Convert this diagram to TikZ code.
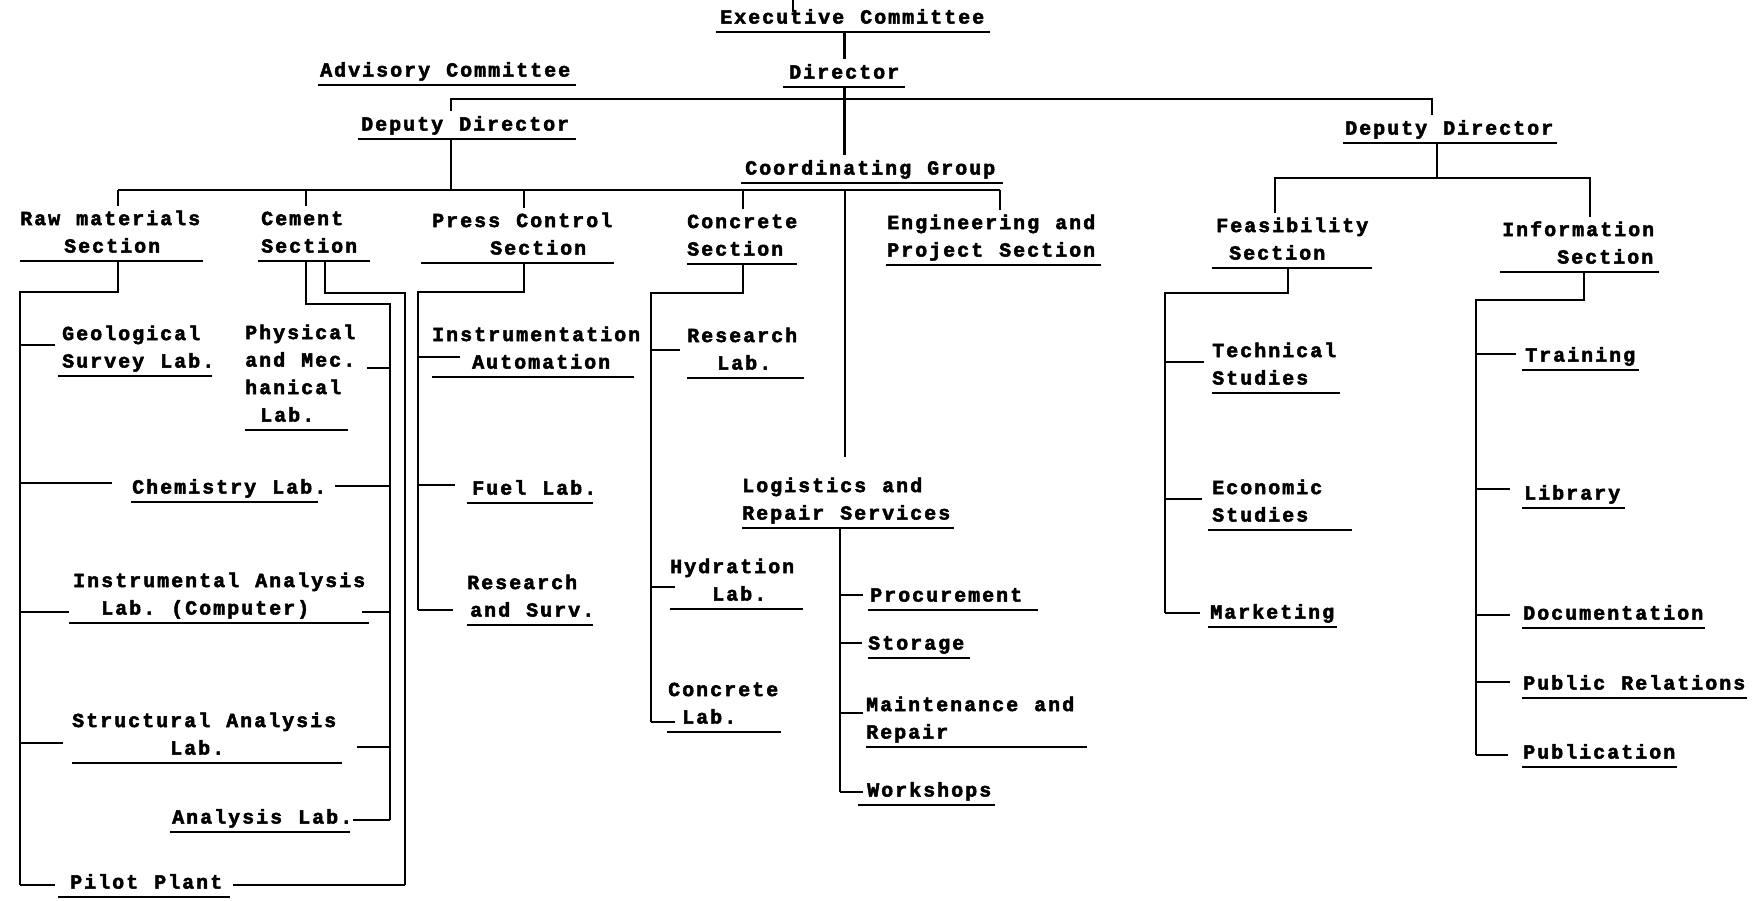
\documentclass[tikz,border=0pt]{standalone}
\usepackage{fontspec}
\newfontfamily\tw{Liberation Mono}[LetterSpace=10,BoldFeatures={FakeBold=2.5}]
\newcommand\wsp{\hspace*{16pt}}
\tikzset{
  ul/.style={draw,line width=1.8pt},
  lab/.style={anchor=south west,inner sep=0pt,align=left,
    font={\tw\fontsize{20}{27.5}\selectfont\bfseries},
    execute at begin node=\strut,execute at end node=\strut,
    append after command={(\tikzlastnode.south west) edge[ul] (\tikzlastnode.south east)}},
  conn/.style={line width=2.6pt},
  tick/.style={line width=1.8pt},
}
\begin{document}
\begin{tikzpicture}[x=1pt,y=-1pt]
\useasboundingbox[fill=white] (0,0) rectangle (1760,900);
% ---- nodes
\node[lab,text width=274pt] (exec) at (716,32) {\hspace*{4pt}Executive\wsp Committee};
\node[lab,text width=122pt] (dir) at (783,87) {\hspace*{6pt}Director};
\node[lab,text width=258pt] (adv) at (318,85) {\hspace*{2pt}Advisory\wsp Committee};
\node[lab,text width=218pt] (ddl) at (358,139) {\hspace*{3pt}Deputy\wsp Director};
\node[lab,text width=262pt] (coord) at (741,183) {\hspace*{4pt}Coordinating\wsp Group};
\node[lab,text width=214pt] (ddr) at (1343,143) {\hspace*{2pt}Deputy\wsp Director};
\node[lab,text width=183pt] (raw) at (20,261) {Raw\wsp materials\\\hspace*{44pt}Section};
\node[lab,text width=112pt] (cem) at (258,261) {\hspace*{3pt}Cement\\\hspace*{3pt}Section};
\node[lab,text width=193pt] (press) at (421,263) {\hspace*{11pt}Press\wsp Control\\\hspace*{69pt}Section};
\node[lab,text width=110pt] (conc) at (687,264) {Concrete\\Section};
\node[lab,text width=215pt] (eng) at (886,265) {\hspace*{1pt}Engineering\wsp and\\\hspace*{1pt}Project\wsp Section};
\node[lab,text width=160pt] (feas) at (1212,268) {\hspace*{4pt}Feasibility\\\hspace*{17pt}Section};
\node[lab,text width=159pt] (info) at (1500,272) {\hspace*{2pt}Information\\\hspace*{57pt}Section};
\node[lab,text width=154pt] (geo) at (58,376) {\hspace*{4pt}Geological\\\hspace*{4pt}Survey\wsp Lab.};
\node[lab,text width=103pt] (phys) at (245,430) {Physical\\and\wsp Mec.\\hanical\\\hspace*{15pt}Lab.};
\node[lab,text width=187pt] (chem) at (131,502) {\hspace*{1pt}Chemistry\wsp Lab.};
\node[lab,text width=300pt] (instr) at (69,623) {\hspace*{4pt}Instrumental\wsp Analysis\\\hspace*{32pt}Lab.\wsp(Computer)};
\node[lab,text width=270pt] (struct) at (72,763) {Structural\wsp Analysis\\\hspace*{98pt}Lab.};
\node[lab,text width=180pt] (anal) at (170,832) {\hspace*{2pt}Analysis\wsp Lab.};
\node[lab,text width=172pt] (pilot) at (58,897) {\hspace*{12pt}Pilot\wsp Plant};
\node[lab,text width=202pt] (instrum) at (432,377) {Instrumentation\\\hspace*{40pt}Automation};
\node[lab,text width=126pt] (fuel) at (467,503) {\hspace*{5pt}Fuel\wsp Lab.};
\node[lab,text width=126pt] (rsurv) at (467,625) {Research\\\hspace*{3pt}and\wsp Surv.};
\node[lab,text width=117pt] (rlab) at (687,378) {Research\\\hspace*{30pt}Lab.};
\node[lab,text width=133pt] (hyd) at (670,609) {Hydration\\\hspace*{42pt}Lab.};
\node[lab,text width=114pt] (clab) at (667,732) {\hspace*{1pt}Concrete\\\hspace*{15pt}Lab.};
\node[lab,text width=212pt] (logi) at (742,528) {Logistics\wsp and\\Repair\wsp Services};
\node[lab,text width=170pt] (proc) at (868,610) {\hspace*{2pt}Procurement};
\node[lab,text width=102pt] (stor) at (868,658) {Storage};
\node[lab,text width=221pt] (maint) at (866,747) {Maintenance\wsp and\\Repair};
\node[lab,text width=137pt] (work) at (858,805) {\hspace*{9pt}Workshops};
\node[lab,text width=128pt] (tech) at (1212,393) {Technical\\Studies};
\node[lab,text width=144pt] (econ) at (1208,530) {\hspace*{4pt}Economic\\\hspace*{4pt}Studies};
\node[lab,text width=129pt] (mark) at (1208,627) {\hspace*{2pt}Marketing};
\node[lab,text width=117pt] (train) at (1522,370) {\hspace*{3pt}Training};
\node[lab,text width=103pt] (lib) at (1522,508) {\hspace*{2pt}Library};
\node[lab,text width=183pt] (doc) at (1522,628) {\hspace*{1pt}Documentation};
\node[lab,text width=225pt] (pr) at (1522,698) {\hspace*{1pt}Public\wsp Relations};
\node[lab,text width=155pt] (pub) at (1522,767) {\hspace*{1pt}Publication};
% ---- top connectors
\coordinate (top) at (793,0);
\draw[conn] (top) -- ++(0,12);
\draw[conn] (exec.south -| dir.north) -- (dir.north);
\draw[conn] (dir.south) -- (dir.south |- coord.north);
\coordinate (tl) at (451,99);
\coordinate (tr) at (1432,99);
\draw[conn] (tl |- ddl.north) -- (tl) -- (tr) -- (tr |- ddr.north);
% ---- second bus
\coordinate (dRaw) at (118,190);
\coordinate (dCem) at (306,190);
\coordinate (dPress) at (524,190);
\coordinate (dConc) at (743,190);
\coordinate (dLog) at (845,190);
\coordinate (dEng) at (1000,190);
\draw[conn] (ddl.south -| tl) -- (tl |- dRaw);
\draw[conn] (dRaw) -- (dEng);
\draw[conn] (dRaw) -- (dRaw |- raw.north);
\draw[conn] (dCem) -- (dCem |- cem.north);
\draw[conn] (dPress) -- (dPress |- press.north);
\draw[conn] (dConc) -- (dConc |- conc.north);
\draw[conn,shorten >=16pt] (dLog) -- (dLog |- logi.north);
\draw[conn] (dEng) -- (dEng |- eng.north);
% ---- right deputy director
\coordinate (rj) at (1437,178);
\coordinate (fL) at (1275,178);
\coordinate (fR) at (1590,178);
\draw[conn] (ddr.south -| rj) -- (rj);
\draw[conn] (fL |- feas.north) -- (fL) -- (fR) -- (fR |- info.north);
% ---- raw materials
\coordinate (rawB) at (118,292);
\coordinate (rawV) at (20,292);
\draw[conn] (raw.south -| rawB) -- (rawB) -- (rawV) -- (rawV |- 0,885);
\draw[tick,shorten >=3pt] (rawV |- 0,345) -- (geo.west |- 0,345);
\draw[tick,shorten >=19pt] (rawV |- 0,483) -- (chem.west |- 0,483);
\draw[tick] (rawV |- 0,612) -- (instr.west |- 0,612);
\draw[tick,shorten >=9pt] (rawV |- 0,743) -- (struct.west |- 0,743);
\draw[tick,shorten >=3pt] (rawV |- 0,885) -- (pilot.west |- 0,885);
% ---- cement
\coordinate (cemA) at (306,304);
\coordinate (cemI) at (390,304);
\coordinate (cemB) at (325,293);
\coordinate (cemO) at (405,293);
\draw[conn] (cem.south -| cemA) -- (cemA) -- (cemI) -- (cemI |- 0,820);
\draw[conn] (cem.south -| cemB) -- (cemB) -- (cemO) -- (cemO |- 0,885);
\draw[tick,shorten <=19pt] (phys.east |- 0,368) -- (cemI |- 0,368);
\draw[tick,shorten <=17pt] (chem.east |- 0,486) -- (cemI |- 0,486);
\draw[tick,shorten <=-7pt] (instr.east |- 0,612) -- (cemI |- 0,612);
\draw[tick,shorten <=15pt] (struct.east |- 0,747) -- (cemI |- 0,747);
\draw[tick,shorten <=3pt] (anal.east |- 0,820) -- (cemI |- 0,820);
\draw[tick,shorten <=3pt] (pilot.east |- 0,885) -- (cemO |- 0,885);
% ---- press control
\coordinate (prB) at (524,292);
\coordinate (prV) at (418,292);
\draw[conn] (press.south -| prB) -- (prB) -- (prV) -- (prV |- 0,610);
\draw[tick,shorten >=-28pt] (prV |- 0,357) -- (instrum.west |- 0,357);
\draw[tick,shorten >=12pt] (prV |- 0,485) -- (fuel.west |- 0,485);
\draw[tick,shorten >=14pt] (prV |- 0,610) -- (rsurv.west |- 0,610);
% ---- concrete
\coordinate (coB) at (743,293);
\coordinate (coV) at (651,293);
\draw[conn] (conc.south -| coB) -- (coB) -- (coV) -- (coV |- 0,722);
\draw[tick,shorten >=7pt] (coV |- 0,350) -- (rlab.west |- 0,350);
\draw[tick,shorten >=-5pt] (coV |- 0,587) -- (hyd.west |- 0,587);
\draw[tick,shorten >=-8pt] (coV |- 0,722) -- (clab.west |- 0,722);
% ---- logistics
\coordinate (loV) at (840,528);
\draw[conn] (logi.south -| loV) -- (loV |- 0,792);
\draw[tick,shorten >=5pt] (loV |- 0,595) -- (proc.west |- 0,595);
\draw[tick,shorten >=6pt] (loV |- 0,643) -- (stor.west |- 0,643);
\draw[tick,shorten >=3pt] (loV |- 0,713) -- (maint.west |- 0,713);
\draw[tick,shorten >=-5pt] (loV |- 0,792) -- (work.west |- 0,792);
% ---- feasibility
\coordinate (feB) at (1288,293);
\coordinate (feV) at (1165,293);
\draw[conn] (feas.south -| feB) -- (feB) -- (feV) -- (feV |- 0,613);
\draw[tick,shorten >=8pt] (feV |- 0,362) -- (tech.west |- 0,362);
\draw[tick,shorten >=6pt] (feV |- 0,499) -- (econ.west |- 0,499);
\draw[tick,shorten >=8pt] (feV |- 0,613) -- (mark.west |- 0,613);
% ---- information
\coordinate (inB) at (1584,300);
\coordinate (inV) at (1476,300);
\draw[conn] (info.south -| inB) -- (inB) -- (inV) -- (inV |- 0,755);
\draw[tick,shorten >=6pt] (inV |- 0,354) -- (train.west |- 0,354);
\draw[tick,shorten >=12pt] (inV |- 0,489) -- (lib.west |- 0,489);
\draw[tick,shorten >=12pt] (inV |- 0,615) -- (doc.west |- 0,615);
\draw[tick,shorten >=12pt] (inV |- 0,682) -- (pr.west |- 0,682);
\draw[tick,shorten >=14pt] (inV |- 0,755) -- (pub.west |- 0,755);
\end{tikzpicture}
\end{document}
